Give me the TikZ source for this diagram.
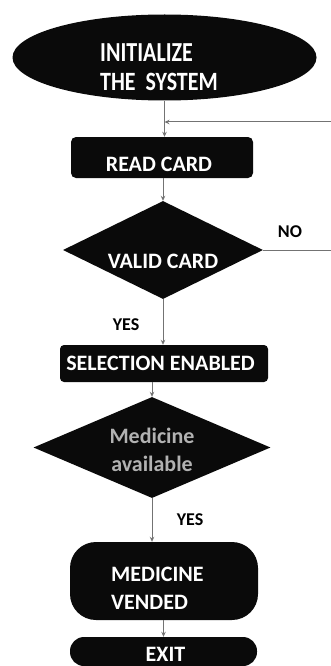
\documentclass[tikz,border=0pt]{standalone}
\usepackage{fontspec}
\setmainfont{Carlito}
\usetikzlibrary{shapes.geometric,arrows.meta}
\begin{document}
\begin{tikzpicture}[x=1pt,y=1pt,
  shp/.style={fill=black!96, draw=none, inner sep=0pt},
  box/.style={shp, rectangle},
  dia/.style={shp, diamond},
  txt/.style={text=white, font=\bfseries\fontsize{22}{28}\selectfont, inner sep=0pt, align=center},
  conn/.style={draw=black!55, line width=1pt, -{Stealth[length=5pt,width=4.5pt]}},
  line/.style={draw=black!55, line width=1pt},
  lbl/.style={font=\bfseries\fontsize{18}{20}\selectfont, text=black, inner sep=0pt}
]
\useasboundingbox (0,0) rectangle (331,-666);
\fill[white] (0,0) rectangle (331,-666);

% shapes
\node[shp, ellipse, minimum width=304pt, minimum height=86pt] (init) at (164.5,-57.5) {};
\node[box, rounded corners=5pt, minimum width=182pt, minimum height=41pt] (read) at (162,-157.5) {};
\node[dia, minimum width=200pt, minimum height=98pt] (valid) at (163,-250) {};
\node[box, rounded corners=4pt, minimum width=208pt, minimum height=37pt] (sel) at (164,-363.5) {};
\node[dia, minimum width=237pt, minimum height=101pt] (avail) at (152,-447.5) {};
\node[box, rounded corners=26pt, minimum width=188pt, minimum height=78pt] (vend) at (164,-581) {};
\node[box, rounded corners=14pt, minimum width=187pt, minimum height=29pt] (exit) at (163.5,-651.5) {};

% texts
\node[txt, anchor=west, align=left] (initt) at (100,-67.5)
  {\scalebox{1}[1.25]{INITIALIZE}\\[1pt]\scalebox{1}[1.2]{THE\ \ SYSTEM}};
\node[txt] (readt) at (159,-164.5) {READ CARD};
\node[txt] (validt) at (163,-261) {VALID CARD};
\node[txt] (selt) at (160.5,-363.5) {SELECTION ENABLED};
\node[txt, text=black!30] (availt) at (152,-450) {Medicine\\available};
\node[txt, anchor=west, align=left] (vendt) at (111,-588.5) {MEDICINE\\VENDED};
\node[txt] (exitt) at (165.5,-654.5) {EXIT};

% connectors
\coordinate (j) at (init.south |- 0,-122);
\coordinate (r1) at (valid.east -| 331,0);
\coordinate (r2) at (331,-122);
\draw[conn] (init.south) -- (init.south |- read.north);
\draw[line] (valid.east) -- (r1);
\draw[conn] (r2) -- (j);
\draw[conn] (valid.north |- read.south) -- (valid.north);
\draw[conn] (valid.south) -- (valid.south |- sel.north);
\draw[conn] (avail.north |- sel.south) -- (avail.north);
\draw[conn] (avail.south) -- (avail.south |- vend.north);
\draw[conn] (vend.south -| exit.north) -- (exit.north);

% labels
\node[lbl] (no) at (290,-232) {NO};
\node[lbl] (yes1) at (126,-325) {YES};
\node[lbl] (yes2) at (190,-520) {YES};
\end{tikzpicture}
\end{document}
